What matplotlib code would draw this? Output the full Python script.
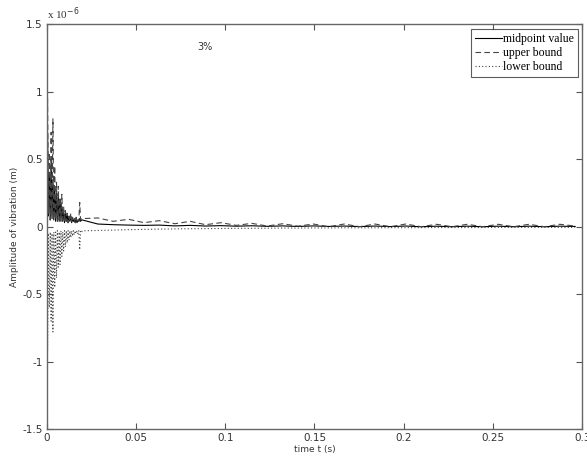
import numpy as np
import matplotlib.pyplot as plt

# early part of the response (0 .. 0.02 s), values in units of 1e-6 m
t_early = np.arange(0, 0.02001, 0.0005)
upper_early = [0.02, 0.95, 0.10, 0.55, 0.05, 0.70, 0.08, 0.80, 0.06, 0.45,
               0.05, 0.33, 0.04, 0.30, 0.05, 0.22, 0.04, 0.24, 0.05, 0.15,
               0.03, 0.12, 0.04, 0.10, 0.03, 0.08, 0.04, 0.10, 0.03, 0.07,
               0.04, 0.06, 0.03, 0.07, 0.03, 0.05, 0.04, 0.18, 0.05, 0.06,
               0.06]
mid_early = [0.02, 0.70, 0.08, 0.40, 0.05, 0.50, 0.06, 0.35, 0.05, 0.30,
             0.04, 0.25, 0.05, 0.22, 0.04, 0.20, 0.05, 0.15, 0.04, 0.12,
             0.03, 0.10, 0.04, 0.09, 0.03, 0.07, 0.04, 0.08, 0.03, 0.06,
             0.04, 0.05, 0.03, 0.06, 0.03, 0.05, 0.04, 0.06, 0.04, 0.05,
             0.05]
lower_early = [-0.02, -0.92, -0.05, -0.60, -0.04, -0.70, -0.05, -0.78, -0.04, -0.45,
               -0.04, -0.38, -0.03, -0.30, -0.04, -0.28, -0.03, -0.22, -0.04, -0.18,
               -0.03, -0.15, -0.03, -0.12, -0.03, -0.10, -0.03, -0.08, -0.03, -0.07,
               -0.03, -0.06, -0.03, -0.05, -0.03, -0.05, -0.03, -0.17, -0.03, -0.04,
               -0.03]

# late part (0.02 .. 0.296 s), slow small oscillation
t_late = np.linspace(0.02, 0.296, 33)
upper_late = [0.06, 0.065, 0.04, 0.055, 0.03, 0.045, 0.022, 0.04, 0.015, 0.03,
              0.01, 0.025, 0.005, 0.022, 0.004, 0.02, 0.0, 0.02, 0.0, 0.02,
              0.0, 0.02, 0.0, 0.018, 0.0, 0.018, 0.0, 0.018, 0.0, 0.018,
              0.0, 0.018, 0.005]
mid_late = [0.03, 0.02, 0.015, 0.012, 0.01, 0.012, 0.006, 0.01, 0.005, 0.008,
            0.004, 0.007, 0.003, 0.006, 0.002, 0.006, 0.002, 0.005, 0.001, 0.005,
            0.001, 0.005, 0.0, 0.004, 0.0, 0.004, 0.0, 0.004, 0.0, 0.004,
            0.0, 0.004, 0.002]
lower_late = [-0.03, -0.028, -0.025, -0.022, -0.02, -0.018, -0.016, -0.015, -0.014, -0.013,
              -0.012, -0.012, -0.011, -0.010, -0.010, -0.009, -0.009, -0.008, -0.008, -0.008,
              -0.007, -0.007, -0.007, -0.006, -0.006, -0.006, -0.006, -0.005, -0.005, -0.005,
              -0.005, -0.005, -0.005]

x_ticks = [0, 0.05, 0.1, 0.15, 0.2, 0.25, 0.3]
x_labels = ["0", "0.05", "0.1", "0.15", "0.2", "0.25", "0.3"]
y_ticks = [-1.5, -1, -0.5, 0, 0.5, 1, 1.5]
y_labels = ["-1.5", "-1", "-0.5", "0", "0.5", "1", "1.5"]

t = np.concatenate([t_early, t_late[1:]])
upper = np.concatenate([upper_early, upper_late[1:]])
mid = np.concatenate([mid_early, mid_late[1:]])
lower = np.concatenate([lower_early, lower_late[1:]])

fig = plt.figure(figsize=(5.87, 4.61), dpi=100)
ax = fig.add_axes([0.0795, 0.0694, 0.9125, 0.8776])

ax.plot(t, mid, color="black", lw=0.8, ls="-", label="midpoint value")
ax.plot(t, upper, color="#444444", lw=0.8, ls=(0, (5, 3)), label="upper bound")
ax.plot(t, lower, color="#444444", lw=0.8, ls=(0, (1, 2)), label="lower bound")

ax.set_xlim(0, 0.3)
ax.set_ylim(-1.5, 1.5)
ax.set_xticks(x_ticks)
ax.set_xticklabels(x_labels, fontsize=7.5, color="#333333")
ax.set_yticks(y_ticks)
ax.set_yticklabels(y_labels, fontsize=7.5, color="#333333")
ax.tick_params(direction="in", top=True, right=True, length=4, width=0.8,
               color="#555555", pad=3)
for s in ax.spines.values():
    s.set_color("#666666")
    s.set_linewidth(1.0)

ax.set_xlabel("time t (s)", fontsize=6.5, labelpad=1, color="#333333")
ax.set_ylabel("Amplitude of vibration (m)", fontsize=6.5, labelpad=2, color="#333333")

ax.text(0.0, 1.005, "x 10$^{-6}$", transform=ax.transAxes, fontsize=8,
        family="Liberation Serif", va="bottom", ha="left", color="#333333")
ax.text(0.0886, 1.335, "3%", fontsize=7, ha="center", va="center", color="#333333")

leg = ax.legend(loc="upper right", prop={"family": "Liberation Serif", "size": 8.5},
                frameon=True, fancybox=False, handlelength=2.3, handletextpad=0.1,
                borderpad=0.3, labelspacing=0.2, borderaxespad=0.4)
leg.get_frame().set_edgecolor("#333333")
leg.get_frame().set_linewidth(0.8)

fig.savefig("out.png", dpi=100)
